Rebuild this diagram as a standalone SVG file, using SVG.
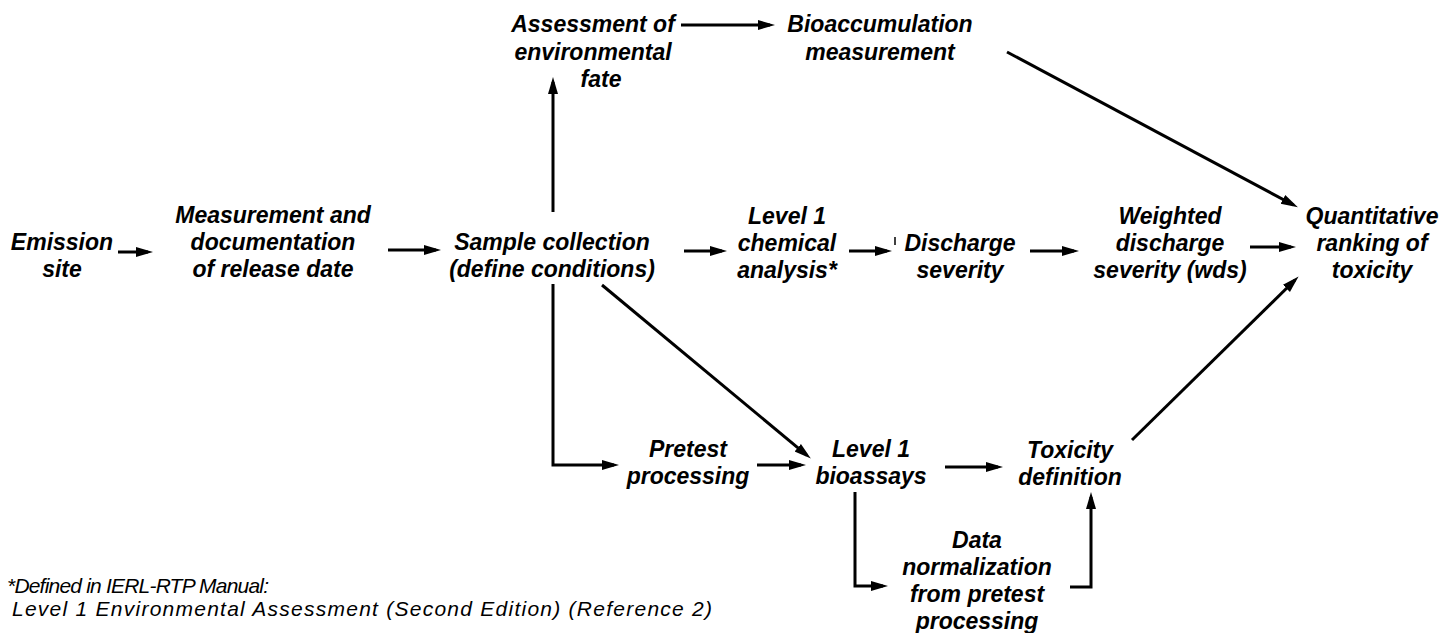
<svg xmlns="http://www.w3.org/2000/svg" width="1443" height="633" viewBox="0 0 1443 633">
<style>
.t{font-family:"Liberation Sans",Arial,sans-serif;font-size:23px;font-weight:bold;font-style:italic;fill:#000;text-anchor:middle}
.fn{font-family:"Liberation Sans",Arial,sans-serif;font-size:21px;font-style:italic;fill:#000}
.c{fill:none;stroke:#000;stroke-width:3;stroke-linejoin:miter}
</style>
<defs>
<marker id="ah" markerUnits="userSpaceOnUse" markerWidth="18" markerHeight="12" refX="12" refY="6" orient="auto">
<path d="M0,1 L17,6 L0,11 z" fill="#000"/>
</marker>
</defs>
<rect width="1443" height="633" fill="#fff"/>
<g id="connectors">
<path class="c" d="M118,252 H148" marker-end="url(#ah)"/>
<path class="c" d="M388,250 H436" marker-end="url(#ah)"/>
<path class="c" d="M553,212 V82" marker-end="url(#ah)"/>
<path class="c" d="M681,25 H770" marker-end="url(#ah)"/>
<path class="c" d="M1007,52 L1293.5,205" marker-end="url(#ah)"/>
<path class="c" d="M684,251 H722" marker-end="url(#ah)"/>
<path class="c" d="M849,251 H887" marker-end="url(#ah)"/>
<path d="M895,237 V245" stroke="#000" stroke-width="1.5"/>
<path class="c" d="M1030,251 H1074" marker-end="url(#ah)"/>
<path class="c" d="M1250,247 H1291" marker-end="url(#ah)"/>
<path class="c" d="M553,284 V465 H614" marker-end="url(#ah)"/>
<path class="c" d="M602,285 L807,455.4" marker-end="url(#ah)"/>
<path class="c" d="M757,465 H801" marker-end="url(#ah)"/>
<path class="c" d="M945,467 H998" marker-end="url(#ah)"/>
<path class="c" d="M855,492 V586 H883" marker-end="url(#ah)"/>
<path class="c" d="M1070,587 H1091 V497" marker-end="url(#ah)"/>
<path class="c" d="M1132,440 L1295,280" marker-end="url(#ah)"/>
</g>
<g id="emission"><text class="t" x="62" y="250">Emission</text><text class="t" x="62" y="277">site</text></g>
<g id="measurement"><text class="t" x="273" y="223">Measurement and</text><text class="t" x="273" y="250">documentation</text><text class="t" x="273" y="277">of release date</text></g>
<g id="sample"><text class="t" x="552" y="250">Sample collection</text><text class="t" x="552" y="277">(define conditions)</text></g>
<g id="assessment"><text class="t" x="593" y="32">Assessment of</text><text class="t" x="593" y="60">environmental</text><text class="t" x="601" y="87">fate</text></g>
<g id="bioaccumulation"><text class="t" x="880" y="32">Bioaccumulation</text><text class="t" x="880" y="60">measurement</text></g>
<g id="chemical"><text class="t" x="787" y="224">Level 1</text><text class="t" x="787" y="251">chemical</text><text class="t" x="787" y="278">analysis*</text></g>
<g id="discharge"><text class="t" x="960" y="251">Discharge</text><text class="t" x="960" y="278">severity</text></g>
<g id="weighted"><text class="t" x="1170" y="224">Weighted</text><text class="t" x="1170" y="251">discharge</text><text class="t" x="1170" y="278">severity (wds)</text></g>
<g id="quantitative"><text class="t" x="1372" y="224">Quantitative</text><text class="t" x="1372" y="251">ranking of</text><text class="t" x="1372" y="278">toxicity</text></g>
<g id="pretest"><text class="t" x="688" y="457">Pretest</text><text class="t" x="688" y="484">processing</text></g>
<g id="bioassays"><text class="t" x="871" y="457">Level 1</text><text class="t" x="871" y="484">bioassays</text></g>
<g id="toxicity"><text class="t" x="1070" y="458">Toxicity</text><text class="t" x="1070" y="485">definition</text></g>
<g id="normalization"><text class="t" x="977" y="548">Data</text><text class="t" x="977" y="575">normalization</text><text class="t" x="977" y="602">from pretest</text><text class="t" x="977" y="629">processing</text></g>
<g id="footnote"><text class="fn" x="7" y="593" textLength="262" lengthAdjust="spacing">*Defined in IERL-RTP Manual:</text><text class="fn" x="12" y="616" textLength="700" lengthAdjust="spacing">Level 1 Environmental Assessment (Second Edition) (Reference 2)</text></g>
</svg>
